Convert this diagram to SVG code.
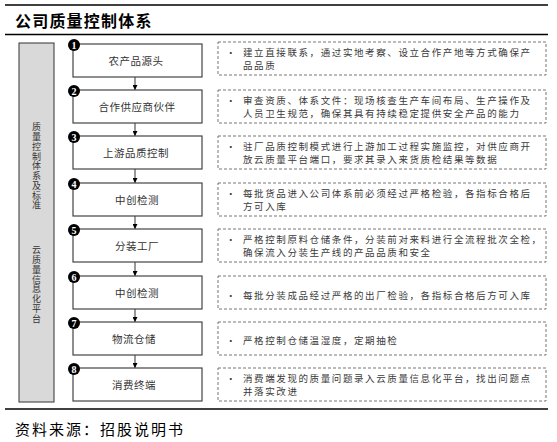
<svg xmlns="http://www.w3.org/2000/svg" width="557" height="442" viewBox="0 0 557 442">
<style>
.rule{stroke:#000;stroke-width:1.5;}
.cjk{font-family:"Noto Sans CJK SC","Noto Sans",sans-serif;}
.title{font-size:16px;font-weight:bold;fill:#000;letter-spacing:1.2px;}
.src{font-size:15px;fill:#000;letter-spacing:2px;}
.side{fill:#d9d9d9;stroke:#333;stroke-width:1;}
.sidetxt{font-size:9px;fill:#333;writing-mode:vertical-rl;letter-spacing:0.75px;}
.box{fill:#fff;stroke:#444;stroke-width:1.2;}
.lbl{font-size:10.5px;fill:#333;text-anchor:middle;letter-spacing:0.5px;}
.desc{fill:#fff;stroke:#666;stroke-width:0.9;stroke-dasharray:3 2;}
.dtxt{font-size:9.5px;fill:#3a3a3a;letter-spacing:1.6px;}
.num{fill:#000;}
.ntxt{font-family:"Liberation Serif",serif;font-size:10px;font-weight:bold;fill:#fff;text-anchor:middle;}
.conn{stroke:#333;stroke-width:1;fill:none;}
</style>
<defs>
<marker id="arr" viewBox="0 0 10 10" refX="10" refY="5" markerWidth="5" markerHeight="5" orient="auto" markerUnits="userSpaceOnUse">
<path d="M0,0 L10,5 L0,10 z" fill="#000"/>
</marker>
</defs>
<line class="rule" x1="5" y1="5" x2="548" y2="5"/>
<text class="cjk title" x="15" y="27">公司质量控制体系</text>
<line class="rule" x1="5" y1="34.5" x2="548" y2="34.5"/>

<g id="side-bar">
<rect class="side" x="19" y="43" width="35" height="359"/>
<text class="cjk sidetxt" x="36.5" y="122.5">质量控制体系及标准</text>
<text class="cjk sidetxt" x="36.5" y="245.5">云质量信息化平台</text>
</g>

<g id="connectors">
<path class="conn" d="M135,77 L135,90" marker-end="url(#arr)"/>
<path class="conn" d="M135,123 L135,136" marker-end="url(#arr)"/>
<path class="conn" d="M135,169 L135,183" marker-end="url(#arr)"/>
<path class="conn" d="M135,216 L135,229" marker-end="url(#arr)"/>
<path class="conn" d="M135,262 L135,276" marker-end="url(#arr)"/>
<path class="conn" d="M135,309 L135,322" marker-end="url(#arr)"/>
<path class="conn" d="M135,355 L135,368" marker-end="url(#arr)"/>
</g>

<g id="step1">
<rect class="box" x="73" y="44" width="129" height="33"/>
<circle class="num" cx="74" cy="45" r="6"/><text class="ntxt" x="74" y="48.5">1</text>
<text class="cjk lbl" x="136" y="64.5">农产品源头</text>
</g>
<g id="step2">
<rect class="box" x="73" y="90" width="129" height="33"/>
<circle class="num" cx="74" cy="91" r="6"/><text class="ntxt" x="74" y="94.5">2</text>
<text class="cjk lbl" x="137" y="110.5">合作供应商伙伴</text>
</g>
<g id="step3">
<rect class="box" x="73" y="136" width="129" height="33"/>
<circle class="num" cx="74" cy="137" r="6"/><text class="ntxt" x="74" y="140.5">3</text>
<text class="cjk lbl" x="136" y="156.5">上游品质控制</text>
</g>
<g id="step4">
<rect class="box" x="73" y="183" width="129" height="33"/>
<circle class="num" cx="74" cy="184" r="6"/><text class="ntxt" x="74" y="187.5">4</text>
<text class="cjk lbl" x="137" y="203.5">中创检测</text>
</g>
<g id="step5">
<rect class="box" x="73" y="229" width="129" height="33"/>
<circle class="num" cx="74" cy="230" r="6"/><text class="ntxt" x="74" y="233.5">5</text>
<text class="cjk lbl" x="137" y="249.5">分装工厂</text>
</g>
<g id="step6">
<rect class="box" x="73" y="276" width="129" height="33"/>
<circle class="num" cx="74" cy="277" r="6"/><text class="ntxt" x="74" y="280.5">6</text>
<text class="cjk lbl" x="137" y="296.5">中创检测</text>
</g>
<g id="step7">
<rect class="box" x="73" y="322" width="129" height="33"/>
<circle class="num" cx="74" cy="323" r="6"/><text class="ntxt" x="74" y="326.5">7</text>
<text class="cjk lbl" x="134" y="342.5">物流仓储</text>
</g>
<g id="step8">
<rect class="box" x="73" y="368" width="129" height="33"/>
<circle class="num" cx="74" cy="369" r="6"/><text class="ntxt" x="74" y="372.5">8</text>
<text class="cjk lbl" x="134" y="388.5">消费终端</text>
</g>

<g id="desc1">
<rect class="desc" x="218" y="42" width="328" height="33"/>
<text class="cjk dtxt"><tspan x="226" y="56">•</tspan><tspan x="243" y="56">建立直接联系，通过实地考察、设立合作产地等方式确保产</tspan><tspan x="243" y="68.5">品品质</tspan></text>
</g>
<g id="desc2">
<rect class="desc" x="218" y="90" width="328" height="33"/>
<text class="cjk dtxt"><tspan x="226" y="104">•</tspan><tspan x="243" y="104">审查资质、体系文件：现场核查生产车间布局、生产操作及</tspan><tspan x="243" y="116.5">人员卫生规范，确保其具有持续稳定提供安全产品的能力</tspan></text>
</g>
<g id="desc3">
<rect class="desc" x="218" y="136" width="328" height="33"/>
<text class="cjk dtxt"><tspan x="226" y="150">•</tspan><tspan x="243" y="150">驻厂品质控制模式进行上游加工过程实施监控，对供应商开</tspan><tspan x="243" y="162.5">放云质量平台端口，要求其录入来货质检结果等数据</tspan></text>
</g>
<g id="desc4">
<rect class="desc" x="218" y="183" width="328" height="33"/>
<text class="cjk dtxt"><tspan x="226" y="197">•</tspan><tspan x="243" y="197">每批货品进入公司体系前必须经过严格检验，各指标合格后</tspan><tspan x="243" y="209.5">方可入库</tspan></text>
</g>
<g id="desc5">
<rect class="desc" x="218" y="229" width="328" height="33"/>
<text class="cjk dtxt"><tspan x="226" y="243">•</tspan><tspan x="243" y="243">严格控制原料仓储条件，分装前对来料进行全流程批次全检，</tspan><tspan x="243" y="255.5">确保流入分装生产线的产品品质和安全</tspan></text>
</g>
<g id="desc6">
<rect class="desc" x="218" y="276" width="328" height="33"/>
<text class="cjk dtxt"><tspan x="226" y="298.5">•</tspan><tspan x="243" y="298.5">每批分装成品经过严格的出厂检验，各指标合格后方可入库</tspan></text>
</g>
<g id="desc7">
<rect class="desc" x="218" y="322" width="328" height="33"/>
<text class="cjk dtxt"><tspan x="226" y="343.5">•</tspan><tspan x="243" y="343.5">严格控制仓储温湿度，定期抽检</tspan></text>
</g>
<g id="desc8">
<rect class="desc" x="218" y="368" width="328" height="33"/>
<text class="cjk dtxt"><tspan x="226" y="382">•</tspan><tspan x="243" y="382">消费端发现的质量问题录入云质量信息化平台，找出问题点</tspan><tspan x="243" y="394.5">并落实改进</tspan></text>
</g>

<line class="rule" x1="5" y1="409" x2="548" y2="409"/>
<text class="cjk src" x="15" y="435">资料来源：招股说明书</text>
</svg>
